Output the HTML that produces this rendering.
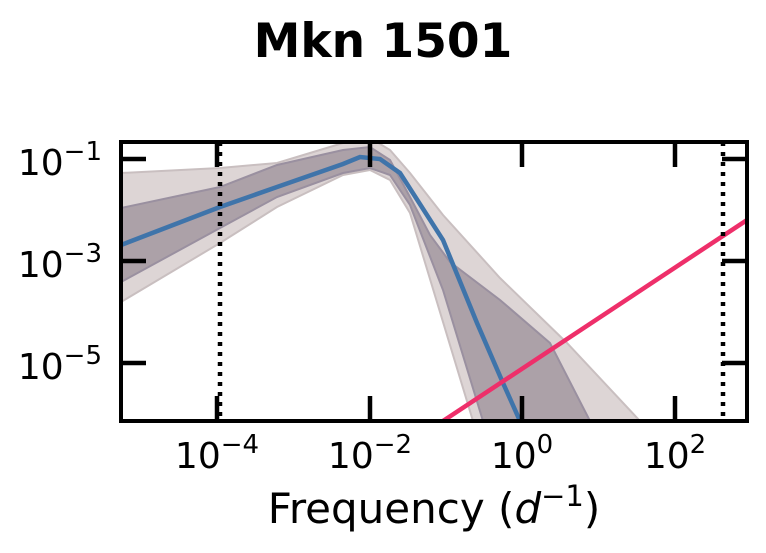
<!DOCTYPE html>
<html><head><meta charset="utf-8"><style>
body{margin:0;background:#fff;width:766px;height:553px;overflow:hidden;position:relative;font-family:"DejaVu Sans","Liberation Sans",sans-serif}
.l{position:absolute;font-size:36px;line-height:37px;white-space:nowrap;color:#000}
.l sup{font-size:26px;vertical-align:0;position:relative;top:-15px}
svg{position:absolute;left:0;top:0}
</style></head><body>
<svg width="766" height="553" viewBox="0 0 766 553" xmlns="http://www.w3.org/2000/svg">
<defs><clipPath id="c"><rect x="121" y="142" width="626" height="279"/></clipPath></defs>
<g clip-path="url(#c)">
<path d="M121,173 L220,168 L277,163 L343,143 L370,138 L390,150 L410,173 L443,215 L500,278 L567,343 L640,421 L473,421 L410,213 L390,180 L370,170 L343,175 L277,207 L220,243 L121,302 Z" style="fill:#ddd5d5;stroke:#c9bfc0;stroke-width:2px"/>
<path d="M121,208 L220,187 L277,165 L343,150 L370,147 L390,160 L410,197 L430,235 L450,262 L500,300 L550,343 L590,421 L483,421 L443,290 L410,205 L390,175 L370,168 L343,173 L277,197 L220,228 L121,282 Z" style="fill:#aca1a8;stroke:#9a90a0;stroke-width:2px"/>
<path d="M121,245 L220,207 L277,187 L343,164 L360,157 L380,159 L400,173 L443,240 L477,323 L503,383 L520,421" style="fill:none;stroke:#3f74aa;stroke-width:4.5px"/>
<line x1="443" y1="421" x2="747" y2="220" style="stroke:#ee2f6a;stroke-width:4.5px"/>
<line x1="220" y1="142" x2="220" y2="421" style="stroke:#000;stroke-width:4.5px;stroke-dasharray:4px 6px"/>
<line x1="723" y1="142" x2="723" y2="421" style="stroke:#000;stroke-width:4.5px;stroke-dasharray:4px 6px"/>
</g>
<rect x="121" y="142" width="626" height="279" style="fill:none;stroke:#000;stroke-width:4px"/>
<g style="stroke:#000;stroke-width:4.5px">
<line x1="217" y1="142" x2="217" y2="167"/><line x1="370" y1="142" x2="370" y2="167"/><line x1="522" y1="142" x2="522" y2="167"/><line x1="675" y1="142" x2="675" y2="167"/>
<line x1="217" y1="421" x2="217" y2="396"/><line x1="370" y1="421" x2="370" y2="396"/><line x1="522" y1="421" x2="522" y2="396"/><line x1="675" y1="421" x2="675" y2="396"/>
<line x1="121" y1="159" x2="146" y2="159"/><line x1="121" y1="261" x2="146" y2="261"/><line x1="121" y1="363" x2="146" y2="363"/>
<line x1="747" y1="159" x2="722" y2="159"/><line x1="747" y1="261" x2="722" y2="261"/><line x1="747" y1="363" x2="722" y2="363"/>
</g>
</svg>
<div class="l" style="left:0;width:766px;text-align:center;top:18px;font-size:47px;line-height:47px;font-weight:bold">Mkn 1501</div>
<div class="l" style="right:664px;top:145px">10<sup>−1</sup></div>
<div class="l" style="right:664px;top:247px">10<sup>−3</sup></div>
<div class="l" style="right:664px;top:349px">10<sup>−5</sup></div>
<div class="l" style="left:117px;width:200px;text-align:center;top:438px">10<sup>−4</sup></div>
<div class="l" style="left:270px;width:200px;text-align:center;top:438px">10<sup>−2</sup></div>
<div class="l" style="left:422px;width:200px;text-align:center;top:438px">10<sup>0</sup></div>
<div class="l" style="left:575px;width:200px;text-align:center;top:438px">10<sup>2</sup></div>
<div class="l" style="left:134px;width:600px;text-align:center;top:488px;font-size:42px;line-height:42px">Frequency (<i>d</i><sup style="font-size:29px;top:-17px">−1</sup>)</div>
</body></html>
